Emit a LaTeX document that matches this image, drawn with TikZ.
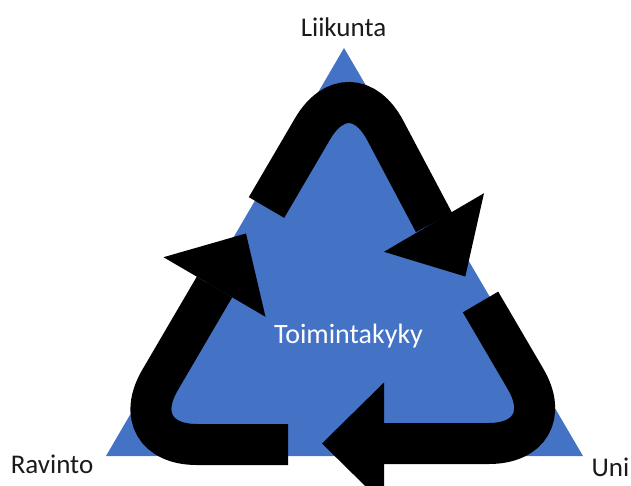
\documentclass[tikz,border=0pt]{standalone}
\usepackage{fontspec}
\setmainfont{Carlito}
\definecolor{triblue}{HTML}{4472C4}
\definecolor{labeltext}{HTML}{1A1A1A}
\tikzset{
  band/.style={draw=black, line width=41pt, line cap=butt, rounded corners=74.5pt},
  headtip/.style={fill=black, draw=none},
  lbl/.style={anchor=base, inner sep=0pt, font=\fontsize{27}{32}\selectfont, text=labeltext},
  centerlbl/.style={anchor=base, inner sep=0pt, font=\fontsize{28}{33}\selectfont, text=white}
}
\begin{document}
\begin{tikzpicture}[x=1pt, y=-1pt]
\useasboundingbox (0,0) rectangle (631,486);
\clip (0,0) rectangle (631,486);
% triangle
\coordinate (apex) at (344,48);
\coordinate (bl) at (106,456);
\coordinate (br) at (583,456);
\fill[triblue] (apex) -- (bl) -- (br) -- cycle;
% top arrow
\coordinate (t1) at (266.5,207.5);
\coordinate (t2) at (350.25,64.4);
\coordinate (t3) at (434,222.5);
\draw[band] (t1) -- (t2) -- (t3);
\coordinate (tA) at (484,193.2);
\coordinate (tB) at (384,251.8);
\coordinate (tT) at (465.3,276.5);
\fill[headtip] (tA) -- (tT) -- (tB) -- cycle;
% left arrow
\coordinate (l1) at (288,444.5);
\coordinate (l2) at (122.3,444.5);
\coordinate (l3) at (214.5,287);
\draw[band] (l1) -- (l2) -- (l3);
\coordinate (lA) at (265.5,316.8);
\coordinate (lB) at (163.5,257.2);
\coordinate (lT) at (246,233.5);
\fill[headtip] (lA) -- (lT) -- (lB) -- cycle;
% right arrow
\coordinate (r1) at (480.5,302);
\coordinate (r2) at (563.3,443.5);
\coordinate (r3) at (384,443.5);
\draw[band] (r1) -- (r2) -- (r3);
\coordinate (rA) at (384,382.5);
\coordinate (rB) at (384,504.5);
\coordinate (rT) at (322,443.5);
\fill[headtip] (rA) -- (rT) -- (rB) -- cycle;
% labels
\node[lbl] (liikunta) at (343.5,37) {Liikunta};
\node[lbl] (ravinto) at (52,473) {Ravinto};
\node[lbl] (uni) at (610.5,476) {Uni};
\node[centerlbl] (toim) at (348.5,343) {Toimintakyky};
\end{tikzpicture}
\end{document}
